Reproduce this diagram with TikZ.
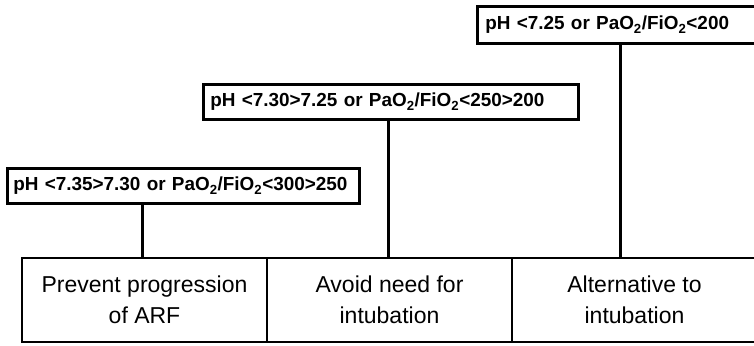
\documentclass[tikz,border=0pt]{standalone}
\usepackage{fontspec}
\setmainfont{Liberation Sans}
\begin{document}
\begin{tikzpicture}[x=1pt,y=-1pt,
  cond/.style={draw=black, line width=2.7pt, rectangle, inner xsep=7pt, inner ysep=0pt,
    anchor=north west, align=left, font=\bfseries\fontsize{18.9}{23}\selectfont},
  cell/.style={draw=black, line width=2.8pt, rectangle, inner sep=0pt, minimum height=84pt,
    align=center, font=\fontsize{23}{31}\selectfont},
  link/.style={draw=black, line width=2.8pt}]
\useasboundingbox (0,0) rectangle (754,345);
\begin{scope}
\clip (0,0) rectangle (754,345);
% bottom row cells
\node[cell, minimum width=245pt] (b1) at (144.5,300) {Prevent progression\\of ARF};
\node[cell, minimum width=245pt] (b2) at (389.5,300) {Avoid need for\\intubation};
\node[cell, minimum width=245pt] (b3) at (634.5,300) {Alternative to\\intubation};
% condition boxes
\node[cond, minimum width=352pt, minimum height=35pt, text width=340pt, inner xsep=6pt] (c1) at (6,167)
  {pH <7.35>7.30 or PaO\textsubscript{2}/FiO\textsubscript{2}<300>250};
\node[cond, minimum width=375pt, minimum height=35pt, text width=361pt, inner xsep=7pt] (c2) at (202,83)
  {pH <7.30>7.25 or PaO\textsubscript{2}/FiO\textsubscript{2}<250>200};
\node[cond, minimum width=284pt, minimum height=37pt, text width=268pt, inner xsep=8pt] (c3) at (476,5)
  {pH <7.25 or PaO\textsubscript{2}/FiO\textsubscript{2}<200};
% connectors
\draw[link] ([xshift=-2pt]b1.north) -- ([xshift=-2pt]b1.north |- c1.south);
\draw[link] ([xshift=-1pt]b2.north) -- ([xshift=-1pt]b2.north |- c2.south);
\draw[link] ([xshift=-14pt]b3.north) -- ([xshift=-14pt]b3.north |- c3.south);
\end{scope}
\end{tikzpicture}
\end{document}
